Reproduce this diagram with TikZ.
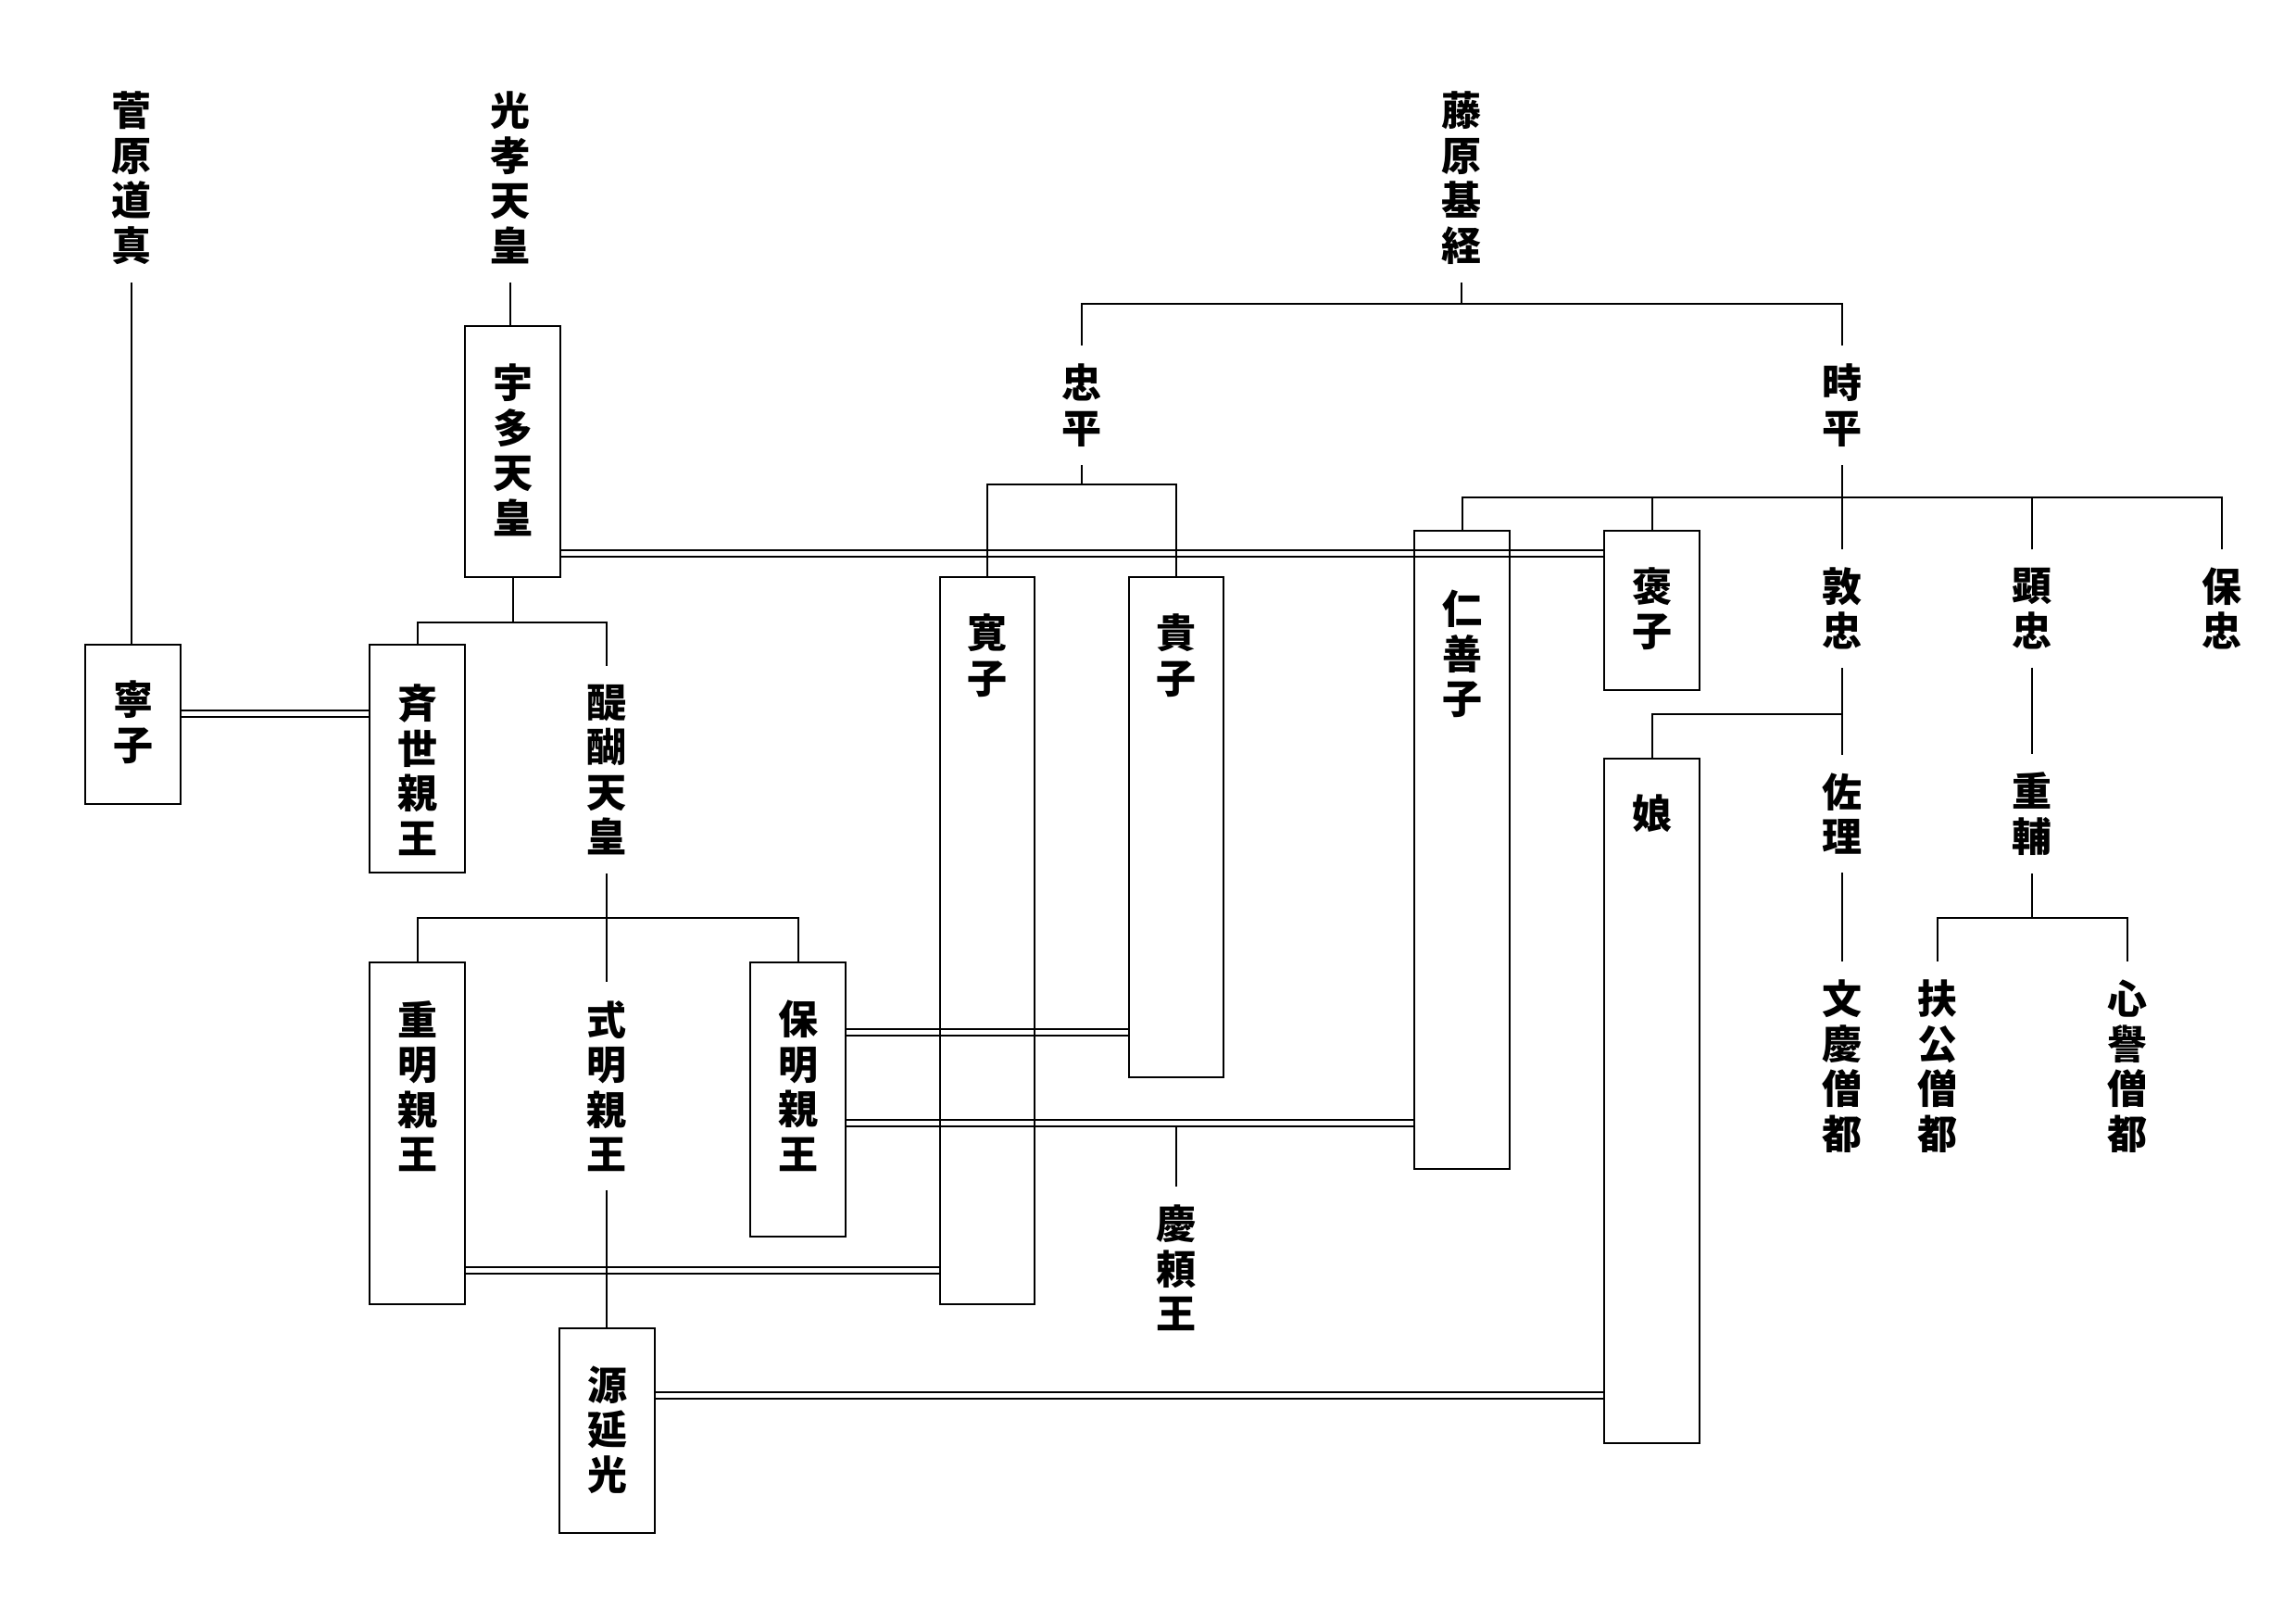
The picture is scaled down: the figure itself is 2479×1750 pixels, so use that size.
\documentclass[tikz,border=0pt]{standalone}
\usepackage{fontspec}
\newfontfamily\jp{Noto Sans CJK JP}
\begin{document}
\begin{tikzpicture}[x=1pt,y=-1pt,
  lbl/.style={font=\jp\bfseries\fontsize{43}{48.5}\selectfont, align=center, inner sep=0pt, outer ysep=20pt},
  box/.style={draw, line width=2pt, inner sep=0pt, minimum width=103pt},
  ln/.style={line width=2pt}]
\useasboundingbox (0,0) rectangle (2479,1750);

% boxes
\node[box, minimum height=172pt] (neiko) at (143.5,782) {};
\node[box, minimum height=271pt] (uda) at (553.5,487.5) {};
\node[box, minimum height=246pt] (tokiyo) at (450.5,819) {};
\node[box, minimum height=369pt] (shigeakira) at (450.5,1223.5) {};
\node[box, minimum height=296pt] (yasuakira) at (861.5,1187) {};
\node[box, minimum height=221pt] (nobumitsu) at (655.5,1544.5) {};
\node[box, minimum height=785pt, minimum width=102pt] (kanshi) at (1066,1015.5) {};
\node[box, minimum height=540pt, minimum width=102pt] (kishi) at (1270,893) {};
\node[box, minimum height=689pt] (ninzenshi) at (1578.5,917.5) {};
\node[box, minimum height=172pt] (hoshi) at (1783.5,659) {};
\node[box, minimum height=739pt] (musume) at (1783.5,1188.5) {};

% texts inside boxes
\node[lbl] (neiko-t) at (143.5,780) {寧\\子};
\node[lbl] (uda-t) at (553.5,486) {宇\\多\\天\\皇};
\node[lbl] (tokiyo-t) at (450.5,831) {斉\\世\\親\\王};
\node[lbl] (shigeakira-t) at (450.5,1172.5) {重\\明\\親\\王};
\node[lbl] (yasuakira-t) at (861.5,1172.5) {保\\明\\親\\王};
\node[lbl] (nobumitsu-t) at (655.5,1543.5) {源\\延\\光};
\node[lbl] (kanshi-t) at (1066,707.5) {寛\\子};
\node[lbl] (kishi-t) at (1270,707.5) {貴\\子};
\node[lbl] (ninzenshi-t) at (1578.5,706) {仁\\善\\子};
\node[lbl] (hoshi-t) at (1783.5,657) {褒\\子};
\node[lbl] (musume-t) at (1783.5,878) {娘};

% free texts
\node[lbl] (sugawara) at (142,192) {菅\\原\\道\\真};
\node[lbl] (koko) at (551,192) {光\\孝\\天\\皇};
\node[lbl] (fujiwara) at (1578,192) {藤\\原\\基\\経};
\node[lbl] (tadahira) at (1168,437.5) {忠\\平};
\node[lbl] (tokihira) at (1989,437.5) {時\\平};
\node[lbl] (daigo) at (655,831) {醍\\醐\\天\\皇};
\node[lbl] (shikiakira) at (655,1172.5) {式\\明\\親\\王};
\node[lbl] (atsutada) at (1989,657) {敦\\忠};
\node[lbl] (akitada) at (2194,657) {顕\\忠};
\node[lbl] (yasutada) at (2399,657) {保\\忠};
\node[lbl] (sukemasa) at (1989,878.5) {佐\\理};
\node[lbl] (shigesuke) at (2194,878.5) {重\\輔};
\node[lbl] (bunkei) at (1989,1151) {文\\慶\\僧\\都};
\node[lbl] (fuko) at (2092,1151) {扶\\公\\僧\\都};
\node[lbl] (shinyo) at (2297,1151) {心\\譽\\僧\\都};
\node[lbl] (keiyori) at (1270,1369) {慶\\頼\\王};

% single connectors
\draw[ln] (sugawara.south) -- (sugawara.south |- neiko.north);
\draw[ln] (koko.south) -- (koko.south |- uda.north);
\draw[ln] (uda.south) -- (uda.south |- 0,672);
\draw[ln] (tokiyo.north) |- (daigo.north |- 0,672) -- (daigo.north);
\draw[ln] (daigo.south) -- (shikiakira.north);
\draw[ln] (shigeakira.north) |- (yasuakira.north |- 0,991) -- (yasuakira.north);
\draw[ln] (shikiakira.south) -- (shikiakira.south |- nobumitsu.north);
\draw[ln] (fujiwara.south) -- (fujiwara.south |- 0,328);
\draw[ln] (tadahira.north) |- (tokihira.north |- 0,328) -- (tokihira.north);
\draw[ln] (tadahira.south) -- (tadahira.south |- 0,523);
\draw[ln] (kanshi.north) |- (kishi.north |- 0,523) -- (kishi.north);
\draw[ln] (tokihira.south) -- (atsutada.north);
\draw[ln] (ninzenshi.north) |- (yasutada.north |- 0,537) -- (yasutada.north);
\draw[ln] (hoshi.north) -- (hoshi.north |- 0,537);
\draw[ln] (akitada.north) -- (akitada.north |- 0,537);
\draw[ln] (atsutada.south) -- (sukemasa.north);
\draw[ln] (musume.north) |- (atsutada.south |- 0,771);
\draw[ln] (akitada.south) -- (shigesuke.north);
\draw[ln] (sukemasa.south) -- (bunkei.north);
\draw[ln] (shigesuke.south) -- (shigesuke.south |- 0,991);
\draw[ln] (fuko.north) |- (shinyo.north |- 0,991) -- (shinyo.north);
\draw[ln] (keiyori.north) -- (keiyori.north |- 0,1216);

% marriage double lines
\foreach \a/\b/\y in {neiko/tokiyo/767, uda/hoshi/594, yasuakira/kishi/1111, yasuakira/ninzenshi/1209, shigeakira/kanshi/1368, nobumitsu/musume/1503} {
  \draw[ln] (\a.east |- 0,\y) -- (\b.west |- 0,\y);
  \draw[ln] (\a.east |- 0,\y+7) -- (\b.west |- 0,\y+7);
}
\end{tikzpicture}
\end{document}
